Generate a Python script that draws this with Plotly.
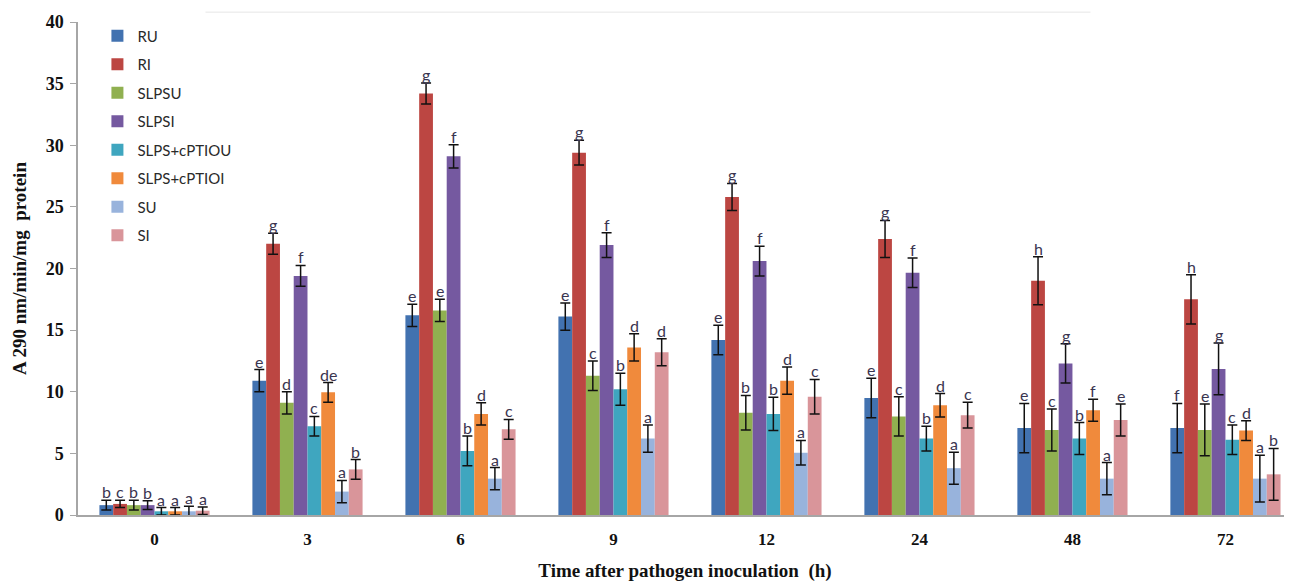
import plotly.graph_objects as go

time_labels = ["0", "3", "6", "9", "12", "24", "48", "72"]
series_names = ["RU", "RI", "SLPSU", "SLPSI", "SLPS+cPTIOU", "SLPS+cPTIOI", "SU", "SI"]
colors = ["#4272B0", "#BC4642", "#90B050", "#7559A0", "#3FA6BF", "#F08A3C", "#98B3DC", "#D9959A"]

RU = [0.8, 10.9, 16.2, 16.1, 14.2, 9.5, 7.05, 7.05]
RI = [0.9, 22.0, 34.2, 29.4, 25.8, 22.4, 19.0, 17.5]
SLPSU = [0.8, 9.1, 16.6, 11.3, 8.3, 8.0, 6.9, 6.9]
SLPSI = [0.8, 19.4, 29.1, 21.9, 20.6, 19.65, 12.3, 11.85]
SLPS_cPTIOU = [0.3, 7.2, 5.2, 10.2, 8.2, 6.2, 6.2, 6.1]
SLPS_cPTIOI = [0.3, 9.95, 8.2, 13.6, 10.9, 8.9, 8.5, 6.85]
SU = [0.3, 1.9, 2.95, 6.2, 5.05, 3.8, 2.95, 2.95]
SI = [0.35, 3.7, 6.95, 13.2, 9.6, 8.1, 7.7, 3.3]

RU_err = [0.4, 0.9, 0.9, 1.1, 1.2, 1.6, 2.0, 2.0]
RI_err = [0.3, 0.85, 0.85, 1.0, 1.1, 1.5, 1.95, 2.0]
SLPSU_err = [0.4, 0.9, 0.9, 1.2, 1.4, 1.6, 1.7, 2.1]
SLPSI_err = [0.35, 0.85, 0.95, 1.0, 1.2, 1.2, 1.6, 2.1]
SLPS_cPTIOU_err = [0.3, 0.8, 1.2, 1.3, 1.35, 1.0, 1.3, 1.2]
SLPS_cPTIOI_err = [0.3, 0.8, 0.9, 1.1, 1.1, 0.95, 0.9, 0.8]
SU_err = [0.4, 0.9, 0.9, 1.1, 1.0, 1.3, 1.3, 1.9]
SI_err = [0.3, 0.8, 0.8, 1.1, 1.4, 1.05, 1.3, 2.1]

RU_let = ["b", "e", "e", "e", "e", "e", "e", "f"]
RI_let = ["c", "g", "g", "g", "g", "g", "h", "h"]
SLPSU_let = ["b", "d", "e", "c", "b", "c", "c", "e"]
SLPSI_let = ["b", "f", "f", "f", "f", "f", "g", "g"]
SLPS_cPTIOU_let = ["a", "c", "b", "b", "b", "b", "b", "c"]
SLPS_cPTIOI_let = ["a", "de", "d", "d", "d", "d", "f", "d"]
SU_let = ["a", "a", "a", "a", "a", "a", "a", "a"]
SI_let = ["a", "b", "c", "d", "c", "c", "e", "b"]

values = [RU, RI, SLPSU, SLPSI, SLPS_cPTIOU, SLPS_cPTIOI, SU, SI]
errors = [RU_err, RI_err, SLPSU_err, SLPSI_err, SLPS_cPTIOU_err, SLPS_cPTIOI_err, SU_err, SI_err]
letters = [RU_let, RI_let, SLPSU_let, SLPSI_let, SLPS_cPTIOU_let, SLPS_cPTIOI_let, SU_let, SI_let]

bargap = 0.28
n = len(series_names)
xs = list(range(len(time_labels)))

fig = go.Figure()
annotations = []
group_w = 1 - bargap
bw = group_w / n
for i, name in enumerate(series_names):
    fig.add_trace(go.Bar(
        x=xs, y=values[i], name=name, legendgroup=name,
        marker=dict(color=colors[i], line=dict(width=0)),
        error_y=dict(type="data", array=errors[i], visible=True,
                     color="#111111", thickness=1.5, width=5),
    ))
    off = -group_w / 2 + bw * (i + 0.5)
    for j, x in enumerate(xs):
        annotations.append(dict(
            x=x + off, y=values[i][j] + errors[i][j], xref="x", yref="y",
            text=letters[i][j], showarrow=False, yanchor="bottom", yshift=-3,
            font=dict(family="Lato, Noto Sans, sans-serif", size=16, color="#3a3550"),
        ))

fig.update_layout(
    barmode="group", bargap=bargap, bargroupgap=0,
    width=1284, height=574,
    margin=dict(l=70, r=0, t=14, b=67),
    paper_bgcolor="white", plot_bgcolor="white",
    annotations=annotations,
    showlegend=True,
    legend=dict(x=0.016, y=1.005, xanchor="left", yanchor="top",
                font=dict(family="Lato, Noto Sans, sans-serif", size=15, color="#2a2a2a"),
                tracegroupgap=6, bgcolor="rgba(0,0,0,0)", itemwidth=30),
    shapes=[dict(type="line", xref="paper", yref="paper", x0=0.105, x1=0.834,
                 y0=1.02, y1=1.02, line=dict(color="#e6e6e6", width=1))],
)
fig.update_xaxes(
    tickmode="array", tickvals=xs, ticktext=time_labels, automargin=False,
    range=[-0.5, 7.435], showline=True, linecolor="#a6a6a6", linewidth=1.5,
    ticks="", showgrid=False, zeroline=False, ticklabelstandoff=8,
    tickfont=dict(family="Liberation Serif, Times New Roman, serif", size=17, color="#111111", weight="bold"),
    title=dict(text="Time after pathogen inoculation  (h)", standoff=16,
               font=dict(family="Liberation Serif, Times New Roman, serif", size=19, color="#111111", weight="bold")),
)
fig.update_yaxes(
    range=[0, 40], dtick=5, showline=True, linecolor="#a6a6a6", linewidth=1.5, automargin=False,
    ticks="outside", ticklen=6, tickcolor="#a6a6a6", showgrid=False, zeroline=False,
    ticklabelstandoff=3,
    tickfont=dict(family="Liberation Serif, Times New Roman, serif", size=18, color="#111111", weight="bold"),
    title=dict(text="Α 290 nm/min/mg  protein", standoff=14,
               font=dict(family="Liberation Serif, Times New Roman, serif", size=19, color="#111111", weight="bold")),
)

fig.write_html("out.html")
